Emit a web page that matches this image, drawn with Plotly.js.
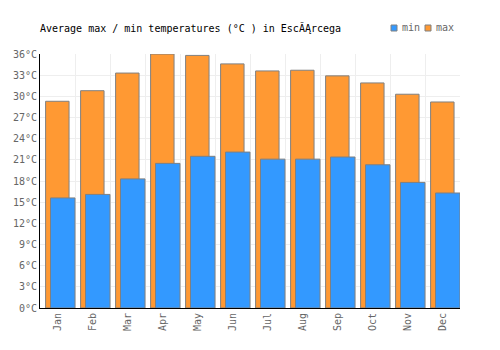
<!DOCTYPE html>
<html>
<head>
<meta charset="utf-8">
<script src="https://cdn.plot.ly/plotly-3.0.1.min.js"></script>
<style>html,body{margin:0;padding:0;background:#fff;}#chart{width:500px;height:350px;}</style>
</head>
<body>
<div id="chart"></div>
<script>
const months = ["Jan","Feb","Mar","Apr","May","Jun","Jul","Aug","Sep","Oct","Nov","Dec"];
const maxTemps = [29.3, 30.8, 33.3, 36.0, 35.8, 34.6, 33.6, 33.7, 32.9, 31.9, 30.3, 29.2];
const minTemps = [15.6, 16.1, 18.3, 20.5, 21.5, 22.1, 21.1, 21.1, 21.4, 20.3, 17.8, 16.3];
const yTicks = [0,3,6,9,12,15,18,21,24,27,30,33,36];
const seriesNames = ["min", "max"];
const seriesColors = ["#3399ff", "#ff9933"];

const font = "DejaVu Sans Mono, monospace";
const W = 500, H = 350, L = 40, R = 40, T = 54, B = 42;
const pw = W - L - R, ph = H - T - B;
const px = x => (x - L) / pw;
const py = y => (H - B - y) / ph;

const data = [
  {type:"bar", name:"max", x:months, y:maxTemps, offset:-0.34, width:0.67,
   marker:{color:seriesColors[1], line:{color:"#808080", width:1}}, hoverinfo:"y"},
  {type:"bar", name:"min", x:months, y:minTemps, offset:-0.2, width:0.7,
   marker:{color:seriesColors[0], line:{color:"#808080", width:1}}, hoverinfo:"y"}
];

// custom legend
const legendX = [391, 425];
const shapes = [], annotations = [];
seriesNames.forEach((n, i) => {
  shapes.push({type:"rect", xref:"paper", yref:"paper",
    x0:px(legendX[i]), x1:px(legendX[i]+6), y0:py(31), y1:py(25),
    fillcolor:seriesColors[i], line:{color:"#808080", width:1}});
  annotations.push({xref:"paper", yref:"paper", x:px(legendX[i]+9), y:py(28),
    xanchor:"left", yanchor:"middle", showarrow:false, text:n,
    font:{family:font, size:10, color:"#666"}});
});

const layout = {
  width:W, height:H,
  margin:{l:L, r:R, t:T, b:B, pad:0},
  paper_bgcolor:"#fff", plot_bgcolor:"#fff",
  barmode:"overlay",
  font:{family:font, size:10, color:"#666"},
  title:{text:"Average max / min temperatures (°C ) in EscĂĄrcega", font:{family:font, size:10, color:"#000"},
         x:40/500, xanchor:"left", y:1-28/350, yanchor:"middle"},
  showlegend:false,
  shapes:shapes, annotations:annotations,
  xaxis:{type:"category", tickangle:-90, showline:true, linecolor:"#000", linewidth:1,
         showgrid:true, gridcolor:"#eeeeee", tickson:"boundaries", ticks:"", fixedrange:true,
         tickfont:{family:font, size:10, color:"#666"}, range:[-0.5, 11.5]},
  yaxis:{range:[0,36], tickvals:yTicks, ticktext:yTicks.map(v=>v+"°C"), showline:true, linecolor:"#000", linewidth:1,
         showgrid:true, gridcolor:"#eeeeee", zeroline:false, ticks:"", fixedrange:true,
         tickfont:{family:font, size:10, color:"#666"}}
};
Plotly.newPlot("chart", data, layout, {displayModeBar:false, staticPlot:true});
</script>
</body>
</html>
